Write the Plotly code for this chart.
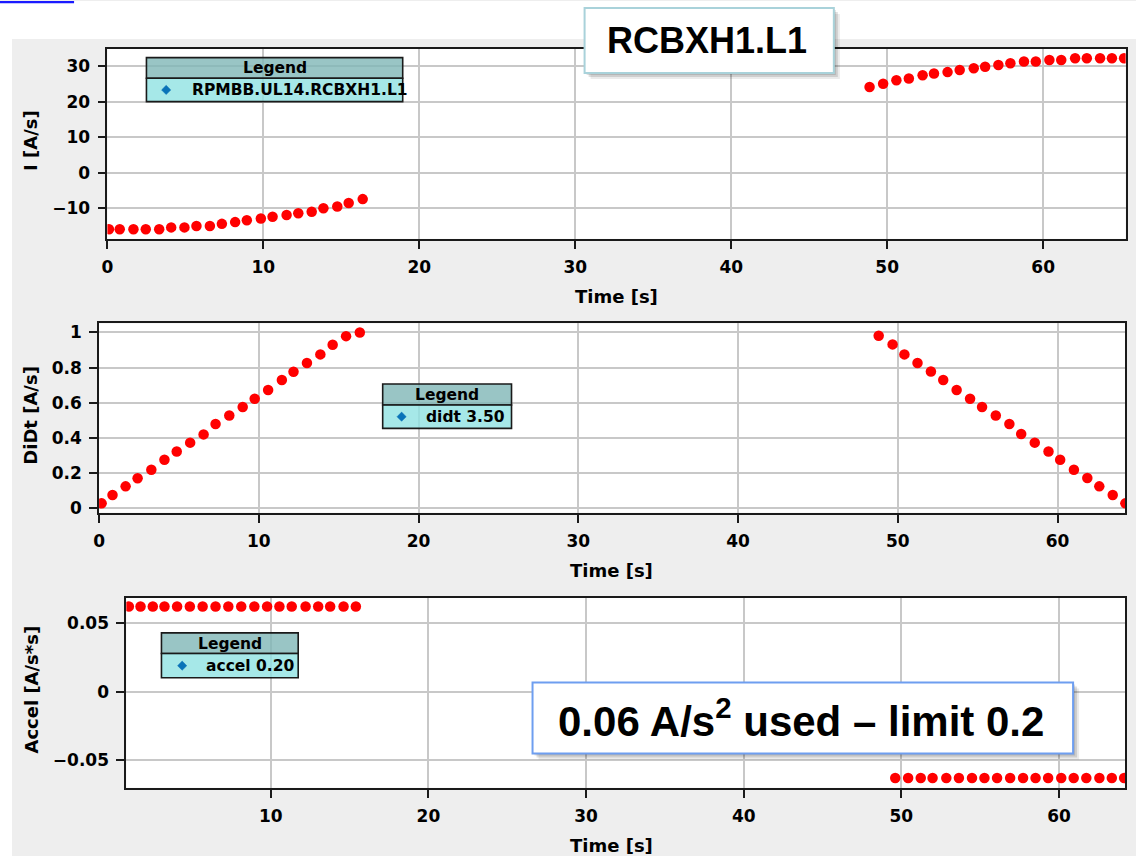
import plotly.graph_objects as go

# ---------------- data ----------------
i_time = [0.1, 0.79, 1.67, 2.46, 3.32, 4.09, 4.94, 5.71, 6.57, 7.34, 8.19, 8.94, 9.84, 10.59,
          11.49, 12.24, 13.1, 13.85, 14.74, 15.47, 16.37,
          48.87, 49.74, 50.59, 51.39, 52.27, 53.0, 53.87, 54.65, 55.55, 56.28, 57.13, 57.9,
          58.77, 59.53, 60.4, 61.16, 62.05, 62.8, 63.65, 64.41, 65.19]
i_values = [-16.0, -16.0, -16.0, -16.0, -16.0, -15.5, -15.5, -15.1, -15.1, -14.5, -14.0, -13.5,
            -13.0, -12.5, -12.0, -11.5, -11.1, -10.1, -9.6, -8.6, -7.5,
            24.2, 25.1, 26.1, 26.6, 27.5, 28.0, 28.4, 29.0, 29.5, 29.9, 30.4, 30.9,
            31.4, 31.4, 31.8, 31.8, 32.3, 32.3, 32.3, 32.3, 32.3]

didt_time = [0.16, 0.84, 1.66, 2.41, 3.27, 4.09, 4.86, 5.70, 6.54, 7.29, 8.15, 8.99, 9.74,
             10.58, 11.44, 12.17, 13.01, 13.85, 14.62, 15.46, 16.32,
             48.80, 49.67, 50.41, 51.23, 52.07, 52.84, 53.68, 54.52, 55.27, 56.13, 56.98,
             57.72, 58.57, 59.43, 60.16, 61.02, 61.86, 62.61, 63.45, 64.24]
didt_values = [0.026, 0.074, 0.123, 0.169, 0.218, 0.275, 0.322, 0.372, 0.419, 0.478, 0.527,
               0.575, 0.622, 0.672, 0.729, 0.776, 0.826, 0.875, 0.930, 0.979, 1.0,
               0.981, 0.932, 0.875, 0.826, 0.778, 0.729, 0.672, 0.622, 0.575, 0.527, 0.478,
               0.421, 0.372, 0.322, 0.275, 0.218, 0.171, 0.123, 0.074, 0.026]

accel_time = [1.0, 1.74, 2.52, 3.26, 4.06, 4.87, 5.68, 6.50, 7.31, 8.13, 8.96, 9.77, 10.55,
              11.33, 12.21, 13.01, 13.77, 14.62, 15.40,
              49.61, 50.43, 51.23, 51.98, 52.85, 53.65, 54.48, 55.27, 56.07, 56.90, 57.72,
              58.51, 59.31, 60.14, 60.93, 61.73, 62.56, 63.35, 64.13]
accel_values = [0.0622] * 19 + [-0.0628] * 19

x_ticks = [0, 10, 20, 30, 40, 50, 60]
i_ticks = [-10, 0, 10, 20, 30]
didt_ticks = [0, 0.2, 0.4, 0.6, 0.8, 1]
didt_ticklabels = ["0", "0.2", "0.4", "0.6", "0.8", "1"]
accel_ticks = [-0.05, 0, 0.05]
accel_ticklabels = ["\u22120.05", "0", "0.05"]

title_text = "RCBXH1.L1"
note_text = "0.06 A/s<sup>2</sup> used \u2013 limit 0.2"
legend_labels = ["RPMBB.UL14.RCBXH1.L1", "didt 3.50", "accel 0.20"]
y_titles = ["I [A/s]", "DiDt [A/s]", "Accel [A/s*s]"]
x_title = "Time [s]"

# ---------------- layout helpers ----------------
W, H = 1136, 856
# the page is shown slightly shrunk and shifted; map target pixels to paper coordinates
SC, OX, OY = 0.9937, 7.0, 0.0


def X(px):
    return ((px - OX) / SC) / W


def Y(py):
    return 1 - ((py - OY) / SC) / H


FONT = "DejaVu Sans"
TICKFONT = dict(family=FONT, size=17, color="#000000", weight="bold")
GRID = "#c8c8c8"
LINE = "#1a1a1a"

fig = go.Figure()

marker = dict(color="#ff0000", size=10.5, line=dict(width=0))
fig.add_trace(go.Scatter(x=i_time, y=i_values, mode="markers", marker=marker,
                         xaxis="x", yaxis="y", name=legend_labels[0], showlegend=False))
fig.add_trace(go.Scatter(x=didt_time, y=didt_values, mode="markers", marker=marker,
                         xaxis="x2", yaxis="y2", name=legend_labels[1], showlegend=False))
fig.add_trace(go.Scatter(x=accel_time, y=accel_values, mode="markers", marker=marker,
                         xaxis="x3", yaxis="y3", name=legend_labels[2], showlegend=False))


def xax(domain, rng, anchor):
    return dict(domain=domain, range=rng, anchor=anchor, tickvals=x_ticks,
                showgrid=True, gridcolor=GRID, gridwidth=1.8, zeroline=False,
                showline=True, linecolor=LINE, linewidth=1.8, mirror=True,
                ticks="outside", ticklen=8, tickwidth=1.6, tickcolor=LINE,
                tickfont=TICKFONT, ticklabelstandoff=4)


def yax(domain, rng, anchor, vals, texts=None):
    d = dict(domain=domain, range=rng, anchor=anchor, tickvals=vals,
             showgrid=True, gridcolor=GRID, gridwidth=1.8, zeroline=False,
             showline=True, linecolor=LINE, linewidth=1.8, mirror=True,
             ticks="outside", ticklen=8, tickwidth=1.6, tickcolor=LINE,
             tickfont=TICKFONT, ticklabelstandoff=4)
    if texts is not None:
        d["ticktext"] = texts
    return d


layout = dict(
    width=W, height=H, margin=dict(l=0, r=0, t=0, b=0),
    paper_bgcolor="#eeeeee", plot_bgcolor="white", showlegend=False,
    xaxis=xax([X(108.3), X(1125.5)], [0, 65.29], "y"),
    yaxis=yax([Y(238), Y(48)], [-18.73, 34.94], "x", i_ticks),
    xaxis2=xax([X(100), X(1125.2)], [0, 64.24], "y2"),
    yaxis2=yax([Y(512), Y(322.7)], [-0.0268, 1.0513], "x2", didt_ticks, didt_ticklabels),
    xaxis3=xax([X(127.2), X(1125.1)], [0.84, 64.2], "y3"),
    yaxis3=yax([Y(787.3), Y(597.3)], [-0.0699, 0.0685], "x3", accel_ticks, accel_ticklabels),
)
fig.update_layout(**layout)

shapes = []
annotations = []


def rect(x0, y0, x1, y1, fill, line_color=None, line_width=0, layer="above"):
    shapes.append(dict(type="rect", xref="paper", yref="paper",
                       x0=X(x0), x1=X(x1), y0=Y(y1), y1=Y(y0),
                       fillcolor=fill, layer=layer,
                       line=dict(color=line_color or "rgba(0,0,0,0)", width=line_width)))


# white page margins around the gray window, and the blue link underline at top-left
rect(0, 0, 1136, 38, "white", layer="below")
rect(0, 0, 13, 856, "white", layer="below")
rect(0, 0, 75, 2.2, "#1a1aff", layer="below")

# axis titles
for cy, cx in [(296, 617), (570, 612), (845, 612)]:
    annotations.append(dict(x=X(cx), y=Y(cy), xref="paper", yref="paper", text=x_title,
                            showarrow=False, xanchor="center", yanchor="middle",
                            font=dict(family=FONT, size=18, color="#000000", weight="bold")))
for txt, cy in zip(y_titles, [140, 415, 689]):
    annotations.append(dict(x=X(32), y=Y(cy), xref="paper", yref="paper", text=txt,
                            textangle=-90, showarrow=False, xanchor="center", yanchor="middle",
                            font=dict(family=FONT, size=18, color="#000000", weight="bold")))


# legend boxes (header + body), semi-transparent like the reference
def legend_box(x0, x1, y0, ymid, y1, dx, tx, label):
    rect(x0, y0, x1, ymid, "rgba(128,183,183,0.8)", LINE, 1.6)
    rect(x0, ymid, x1, y1, "rgba(144,226,226,0.8)", LINE, 1.6)
    annotations.append(dict(x=X((x0 + x1) / 2), y=Y((y0 + ymid) / 2 + 0.5), xref="paper",
                            yref="paper", text="Legend", showarrow=False,
                            xanchor="center", yanchor="middle",
                            font=dict(family=FONT, size=15.5, color="#000000", weight="bold")))
    cy = (ymid + y1) / 2
    r = 4.6
    path = "M {},{} L {},{} L {},{} L {},{} Z".format(
        X(dx), Y(cy - r), X(dx + r), Y(cy), X(dx), Y(cy + r), X(dx - r), Y(cy))
    shapes.append(dict(type="path", xref="paper", yref="paper", path=path,
                       fillcolor="#0a73b8", line=dict(color="#0a73b8", width=0.5)))
    annotations.append(dict(x=X(tx), y=Y(cy + 0.5), xref="paper", yref="paper", text=label,
                            showarrow=False, xanchor="left", yanchor="middle",
                            font=dict(family=FONT, size=15.5, color="#000000", weight="bold")))


legend_box(147.3, 403.3, 56.7, 77.3, 100.7, 167, 190.5, legend_labels[0])
legend_box(383.3, 512, 383.3, 404.3, 427.7, 402.2, 424.5, legend_labels[1])
legend_box(162.3, 298.9, 632.3, 653, 677.3, 183, 204.5, legend_labels[2])


# callout boxes with soft shadow
def callout(x0, y0, x1, y1, border, text, size, cx, cy):
    rect(x0 + 6, y0 + 6, x1 + 6, y1 + 6, "rgba(0,0,0,0.08)")
    rect(x0 + 4, y0 + 4, x1 + 4, y1 + 4, "rgba(0,0,0,0.12)")
    rect(x0 + 2, y0 + 2, x1 + 2, y1 + 2, "rgba(0,0,0,0.12)")
    rect(x0, y0, x1, y1, "white", border, 2)
    annotations.append(dict(x=X(cx), y=Y(cy), xref="paper", yref="paper", text=text,
                            showarrow=False, xanchor="center", yanchor="middle",
                            font=dict(family="Liberation Sans", size=size, color="black",
                                      weight="bold")))


callout(585, 7, 834, 72, "#a9d2da", title_text, 36, 707.5, 40)
callout(533, 682, 1073, 753, "#6e9ef0", note_text, 42, 801, 718)

fig.update_layout(shapes=shapes, annotations=annotations)
fig.write_html("out.html")
